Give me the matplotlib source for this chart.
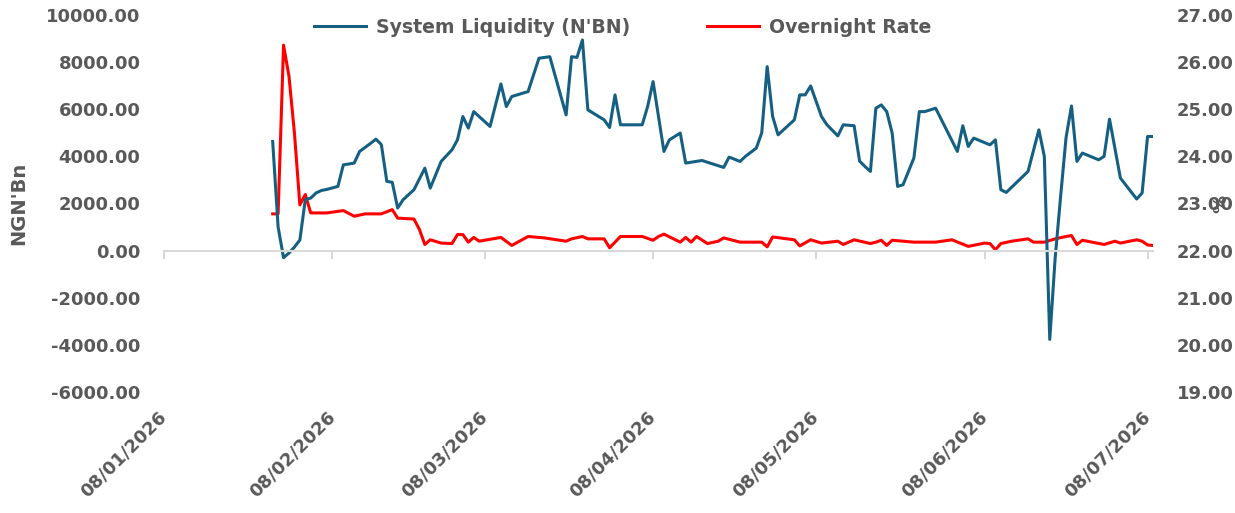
import numpy as np
import pandas as pd
import matplotlib
matplotlib.use("Agg")
import matplotlib.pyplot as plt
import matplotlib.dates as mdates
from matplotlib.ticker import FormatStrFormatter

# System liquidity (N'BN), left axis
liq_dates = [
    "2026-01-28", "2026-01-29", "2026-01-30", "2026-01-31", "2026-02-01", "2026-02-02",
    "2026-02-03", "2026-02-04", "2026-02-05", "2026-02-06", "2026-02-07", "2026-02-09",
    "2026-02-10", "2026-02-12", "2026-02-13", "2026-02-15", "2026-02-16", "2026-02-17",
    "2026-02-18", "2026-02-19", "2026-02-20", "2026-02-21", "2026-02-23", "2026-02-25",
    "2026-02-26", "2026-02-28", "2026-03-02", "2026-03-03", "2026-03-04", "2026-03-05",
    "2026-03-06", "2026-03-09", "2026-03-11", "2026-03-12", "2026-03-13", "2026-03-16",
    "2026-03-18", "2026-03-20", "2026-03-23", "2026-03-24", "2026-03-25", "2026-03-26",
    "2026-03-27", "2026-03-30", "2026-03-31", "2026-04-01", "2026-04-02", "2026-04-06",
    "2026-04-07", "2026-04-08", "2026-04-10", "2026-04-11", "2026-04-13", "2026-04-14",
    "2026-04-17", "2026-04-21", "2026-04-22", "2026-04-24", "2026-04-25", "2026-04-27",
    "2026-04-28", "2026-04-29", "2026-04-30", "2026-05-01", "2026-05-04", "2026-05-05",
    "2026-05-06", "2026-05-07", "2026-05-09", "2026-05-10", "2026-05-12", "2026-05-13",
    "2026-05-15", "2026-05-16", "2026-05-17", "2026-05-18", "2026-05-19", "2026-05-20",
    "2026-05-21", "2026-05-22", "2026-05-23", "2026-05-24", "2026-05-26", "2026-05-27",
    "2026-05-28", "2026-05-30", "2026-06-03", "2026-06-04", "2026-06-05", "2026-06-06",
    "2026-06-09", "2026-06-10", "2026-06-11", "2026-06-12", "2026-06-16", "2026-06-18",
    "2026-06-19", "2026-06-20", "2026-06-21", "2026-06-22", "2026-06-23", "2026-06-24",
    "2026-06-25", "2026-06-26", "2026-06-29", "2026-06-30", "2026-07-01", "2026-07-03",
    "2026-07-06", "2026-07-07", "2026-07-08", "2026-07-09",
]
liq_values = [
    4630, 1000, -300, -100, 150, 450,
    2160, 2230, 2450, 2555, 2600, 2725,
    3640, 3715, 4210, 4550, 4730, 4500,
    2940, 2900, 1810, 2160, 2585, 3500,
    2655, 3785, 4280, 4700, 5690, 5200,
    5900, 5270, 7075, 6115, 6540, 6750,
    8165, 8230, 5760, 8230, 8200, 8940,
    5975, 5550, 5225, 6610, 5340, 5340,
    6115, 7175, 4210, 4700, 4990, 3715,
    3825, 3530, 3970, 3785, 4000, 4350,
    5000, 7810, 5700, 4915, 5550, 6610,
    6610, 6990, 5690, 5340, 4870, 5340,
    5300, 3800, 3570, 3360, 6045, 6185,
    5900, 4990, 2725, 2795, 3930, 5900,
    5900, 6045, 4210, 5300, 4420, 4775,
    4490, 4700, 2585, 2470, 3360, 5125,
    4000, -3770, -300, 2300, 4800, 6140,
    3785, 4140, 3855, 4000, 5580, 3080,
    2190, 2445, 4845, 4845,
]

# Overnight rate (%), right axis
rate_dates = [
    "2026-01-28", "2026-01-29", "2026-01-30", "2026-01-31", "2026-02-01", "2026-02-02",
    "2026-02-03", "2026-02-04", "2026-02-07", "2026-02-10", "2026-02-12", "2026-02-14",
    "2026-02-17", "2026-02-19", "2026-02-20", "2026-02-23", "2026-02-24", "2026-02-25",
    "2026-02-26", "2026-02-28", "2026-03-02", "2026-03-03", "2026-03-04", "2026-03-05",
    "2026-03-06", "2026-03-07", "2026-03-09", "2026-03-11", "2026-03-13", "2026-03-16",
    "2026-03-19", "2026-03-23", "2026-03-24", "2026-03-26", "2026-03-27", "2026-03-30",
    "2026-03-31", "2026-04-02", "2026-04-06", "2026-04-08", "2026-04-09", "2026-04-10",
    "2026-04-13", "2026-04-14", "2026-04-15", "2026-04-16", "2026-04-18", "2026-04-20",
    "2026-04-21", "2026-04-24", "2026-04-28", "2026-04-29", "2026-04-30", "2026-05-04",
    "2026-05-05", "2026-05-07", "2026-05-09", "2026-05-12", "2026-05-13", "2026-05-15",
    "2026-05-18", "2026-05-19", "2026-05-20", "2026-05-21", "2026-05-22", "2026-05-26",
    "2026-05-30", "2026-06-02", "2026-06-05", "2026-06-08", "2026-06-09", "2026-06-10",
    "2026-06-11", "2026-06-13", "2026-06-16", "2026-06-17", "2026-06-19", "2026-06-21",
    "2026-06-23", "2026-06-24", "2026-06-25", "2026-06-26", "2026-06-30", "2026-07-02",
    "2026-07-03", "2026-07-06", "2026-07-07", "2026-07-08", "2026-07-09",
]
rate_values = [
    22.78, 22.78, 26.36, 25.70, 24.50, 22.97,
    23.19, 22.80, 22.80, 22.85, 22.73, 22.78,
    22.78, 22.87, 22.69, 22.67, 22.45, 22.13,
    22.23, 22.16, 22.15, 22.34, 22.34, 22.18,
    22.28, 22.20, 22.24, 22.28, 22.11, 22.30,
    22.27, 22.20, 22.25, 22.30, 22.25, 22.25,
    22.06, 22.30, 22.30, 22.22, 22.30, 22.35,
    22.18, 22.28, 22.18, 22.30, 22.15, 22.20,
    22.27, 22.18, 22.18, 22.08, 22.29, 22.23,
    22.10, 22.23, 22.16, 22.20, 22.13, 22.23,
    22.15, 22.18, 22.22, 22.11, 22.22, 22.18,
    22.18, 22.23, 22.09, 22.16, 22.15, 22.02,
    22.15, 22.20, 22.25, 22.18, 22.18, 22.25,
    22.30, 22.32, 22.13, 22.22, 22.13, 22.20,
    22.16, 22.23, 22.20, 22.12, 22.11,
]

tick_dates = ["2026-01-08", "2026-02-08", "2026-03-08", "2026-04-08",
              "2026-05-08", "2026-06-08", "2026-07-08"]

BLUE = "#156082"
RED = "#FF0000"
GRAY = "#595959"
LINE_GRAY = "#D9D9D9"

plt.rcParams["font.family"] = ["DejaVu Sans"]
plt.rcParams["font.weight"] = "bold"
plt.rcParams["font.size"] = 13

fig = plt.figure(figsize=(12.35, 5.13), dpi=100)
ax = fig.add_axes([164 / 1235, 1 - 392 / 513, 989 / 1235, 377 / 513])
ax2 = ax.twinx()
# keep the blue line above the red one
ax.set_zorder(ax2.get_zorder() + 1)
ax.patch.set_visible(False)

l1, = ax.plot(pd.to_datetime(liq_dates), liq_values, color=BLUE, lw=2.2,
              solid_joinstyle="round", label="System Liquidity (N'BN)")
l2, = ax2.plot(pd.to_datetime(rate_dates), rate_values, color=RED, lw=2.2,
               solid_joinstyle="round", label="Overnight Rate")

ax.set_xlim(pd.Timestamp("2026-01-08"), pd.Timestamp("2026-07-09"))
ax.set_ylim(-6000, 10000)
ax2.set_ylim(19, 27)
ax.set_yticks(np.arange(-6000, 10001, 2000))
ax2.set_yticks(np.arange(19, 27.5, 1))
ax.yaxis.set_major_formatter(FormatStrFormatter("%.2f"))
ax2.yaxis.set_major_formatter(FormatStrFormatter("%.2f"))

for s in ["top", "left", "right"]:
    ax.spines[s].set_visible(False)
for s in ax2.spines.values():
    s.set_visible(False)
ax.spines["bottom"].set_position(("data", 0))
ax.spines["bottom"].set_color(LINE_GRAY)
ax.spines["bottom"].set_linewidth(1.5)

tick_nums = mdates.date2num(pd.to_datetime(tick_dates))
ax.set_xticks(tick_nums)
ax.tick_params(axis="x", length=6, width=1.5, color=LINE_GRAY, labelbottom=False)
ax.tick_params(axis="y", length=0, pad=17, labelcolor=GRAY)
ax2.tick_params(axis="y", length=0, pad=17, labelcolor=GRAY)

# date labels sit at the bottom of the plot, not on the zero line
sec = ax.secondary_xaxis("bottom")
sec.spines["bottom"].set_visible(False)
sec.set_xticks(tick_nums, labels=[pd.Timestamp(d).strftime("%d/%m/%Y") for d in tick_dates],
               rotation=45, ha="right", va="center", rotation_mode="anchor")
sec.tick_params(axis="x", length=0, pad=16, labelcolor=GRAY)

ax.set_ylabel("NGN'Bn", color=GRAY, fontsize=14, fontweight="bold")
ax.yaxis.set_label_coords(-0.1375, 0.5)
ax2.set_ylabel("%", color=GRAY, fontsize=13, fontweight="bold", rotation=90)
ax2.yaxis.set_label_coords(1.06, 0.5)

ax.legend(handles=[l1, l2], loc="center", bbox_to_anchor=(0.464, 0.968), ncol=2,
          frameon=False, handlelength=2.75, handletextpad=0.53, columnspacing=4.07,
          labelcolor=GRAY, prop={"size": 13.6, "weight": "bold"})

fig.savefig("out.png", dpi=100)
